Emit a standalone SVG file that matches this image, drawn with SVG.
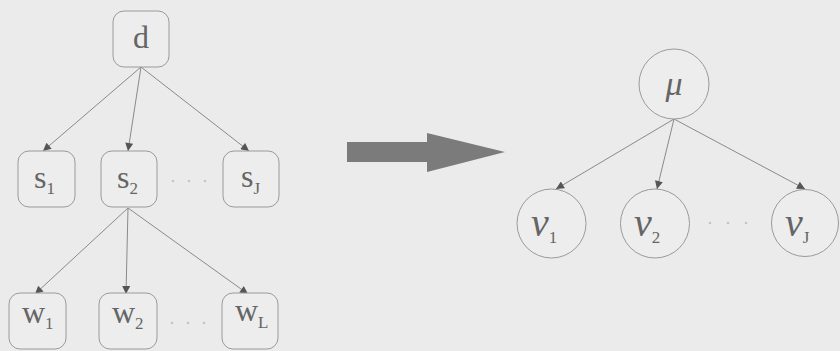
<svg xmlns="http://www.w3.org/2000/svg" width="840" height="351" viewBox="0 0 840 351">
  <style>
    .bg { fill: #ebebeb; }
    .box { fill: #ededed; stroke: #9a9a9a; stroke-width: 1; }
    .edge { stroke: #8a8a8a; stroke-width: 1; fill: none; marker-end: url(#tip); }
    text { font-family: 'Liberation Serif', 'DejaVu Serif', serif; fill: #656565; }
    .main { font-size: 32px; }
    .sub { font-size: 17px; }
    .greek { font-style: italic; font-size: 34px; }
    .nu { font-style: italic; font-size: 40px; }
    .dots { fill: #c4c4c4; }
  </style>
  <defs>
    <marker id="tip" viewBox="0 0 10 10" refX="10" refY="5" markerWidth="9" markerHeight="8" markerUnits="userSpaceOnUse" orient="auto">
      <path d="M0,0 L10,5 L0,10 Z" fill="#555"/>
    </marker>
  </defs>
  <rect class="bg" x="0" y="0" width="840" height="351"/>

  <!-- edges of both graphs -->
  <g id="connectors">
    <line class="edge" x1="141" y1="67" x2="43" y2="151"/>
    <line class="edge" x1="141" y1="67" x2="128" y2="151"/>
    <line class="edge" x1="141" y1="67" x2="249" y2="151"/>
    <line class="edge" x1="128" y1="208" x2="35" y2="294"/>
    <line class="edge" x1="128" y1="208" x2="126" y2="294"/>
    <line class="edge" x1="128" y1="208" x2="248" y2="294"/>
    <line class="edge" x1="674" y1="119" x2="556" y2="189"/>
    <line class="edge" x1="674" y1="119" x2="657" y2="189"/>
    <line class="edge" x1="674" y1="119" x2="805" y2="189"/>
  </g>

  <!-- tree on the left: d -> s_j -> w_l -->
  <g id="node-d">
    <rect class="box" x="113" y="11" width="56" height="56" rx="11"/>
    <text class="main" x="141" y="48" text-anchor="middle">d</text>
  </g>
  <g id="node-s1">
    <rect class="box" x="18" y="151" width="57" height="56" rx="11"/>
    <text x="34" y="188"><tspan class="main">s</tspan><tspan class="sub" dy="6">1</tspan></text>
  </g>
  <g id="node-s2">
    <rect class="box" x="101" y="151" width="56" height="56" rx="11"/>
    <text x="117" y="188"><tspan class="main">s</tspan><tspan class="sub" dy="6">2</tspan></text>
  </g>
  <g id="node-sJ">
    <rect class="box" x="223" y="151" width="56" height="56" rx="11"/>
    <text x="241" y="187"><tspan class="main">s</tspan><tspan class="sub" dy="7">J</tspan></text>
  </g>
  <g id="node-w1">
    <rect class="box" x="9" y="293" width="57" height="56" rx="11"/>
    <text x="22" y="323"><tspan class="main">w</tspan><tspan class="sub" dy="6">1</tspan></text>
  </g>
  <g id="node-w2">
    <rect class="box" x="99" y="293" width="58" height="56" rx="11"/>
    <text x="112" y="323"><tspan class="main">w</tspan><tspan class="sub" dy="6">2</tspan></text>
  </g>
  <g id="node-wL">
    <rect class="box" x="222" y="293" width="56" height="56" rx="11"/>
    <text x="235" y="321"><tspan class="main">w</tspan><tspan class="sub" dy="7">L</tspan></text>
  </g>
  <g id="ellipsis-s">
    <circle class="dots" cx="173" cy="181" r="1.3"/>
    <circle class="dots" cx="189" cy="181" r="1.3"/>
    <circle class="dots" cx="205" cy="181" r="1.3"/>
  </g>
  <g id="ellipsis-w">
    <circle class="dots" cx="172" cy="323" r="1.3"/>
    <circle class="dots" cx="188" cy="323" r="1.3"/>
    <circle class="dots" cx="204" cy="323" r="1.3"/>
  </g>

  <!-- block arrow between the two models -->
  <g id="transform-arrow">
    <path d="M347,142 L427,142 L427,133 L505,152 L427,172 L427,162 L347,162 Z" fill="#7b7b7b"/>
  </g>

  <!-- model on the right: mu -> nu_j -->
  <g id="node-mu">
    <circle class="box" cx="674" cy="84" r="35"/>
    <text class="greek" x="674" y="95" text-anchor="middle">μ</text>
  </g>
  <g id="node-nu1">
    <circle class="box" cx="551.5" cy="223.5" r="34.5"/>
    <text x="531" y="236"><tspan class="nu">ν</tspan><tspan class="sub" dy="7">1</tspan></text>
  </g>
  <g id="node-nu2">
    <circle class="box" cx="655" cy="223.5" r="34.5"/>
    <text x="634" y="236"><tspan class="nu">ν</tspan><tspan class="sub" dy="7">2</tspan></text>
  </g>
  <g id="node-nuJ">
    <circle class="box" cx="805" cy="223" r="33.5"/>
    <text x="785" y="236"><tspan class="nu">ν</tspan><tspan class="sub" dy="7">J</tspan></text>
  </g>
  <g id="ellipsis-nu">
    <circle class="dots" cx="710" cy="223" r="1.3"/>
    <circle class="dots" cx="728" cy="223" r="1.3"/>
    <circle class="dots" cx="746" cy="223" r="1.3"/>
  </g>
</svg>
